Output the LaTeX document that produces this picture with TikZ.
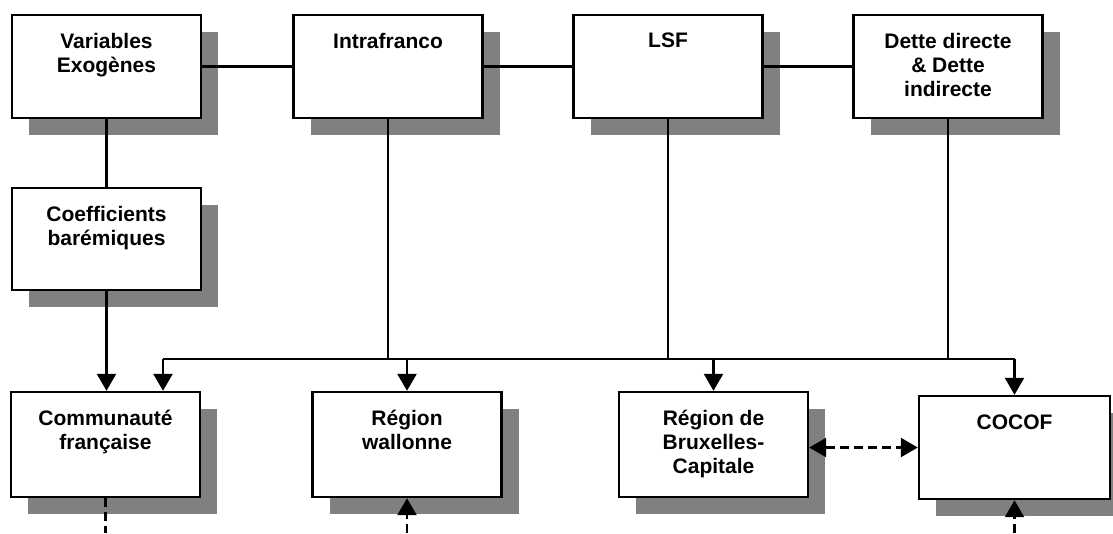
\documentclass[tikz,border=0pt]{standalone}
\usepackage{fontspec}
\setmainfont{Liberation Sans}
\usetikzlibrary{arrows.meta,shadows}

\tikzset{
  box/.style={draw, line width=2.4pt, fill=white, minimum width=189pt, minimum height=103pt,
    drop shadow={fill=gray, opacity=1, shadow xshift=17pt, shadow yshift=-17pt}},
  lbl/.style={anchor=north, align=center, yshift=-16pt, font=\fontsize{21}{24}\selectfont\bfseries},
  link/.style={line width=2.4pt},
  tip/.style={-{Triangle[width=19pt,length=17pt]}},
  flow/.style={line width=2.4pt, tip},
  dflow/.style={line width=2.4pt, dash pattern=on 9pt off 5pt},
}

\begin{document}
\begin{tikzpicture}[x=1pt, y=-1pt]
  \useasboundingbox (0,0) rectangle (1113,533);

  % top row
  \node[box, label={[lbl]north:Variables\\Exogènes}] (ve) at (106.5,66.5) {};
  \node[box, label={[lbl]north:Intrafranco}] (intra) at (388,66.5) {};
  \node[box, label={[lbl]north:LSF}] (lsf) at (668,66.5) {};
  \node[box, label={[lbl]north:Dette directe\\\& Dette\\indirecte}] (dette) at (948,66.5) {};
  \node[box, minimum height=102pt, label={[lbl]north:Coefficients\\barémiques}] (coeff) at (106.5,239) {};

  % bottom row
  \node[box, minimum height=105pt, label={[lbl]north:Communauté\\française}] (commu) at (105.5,444.5) {};
  \node[box, minimum height=105pt, label={[lbl]north:Région\\wallonne}] (wall) at (407,444.5) {};
  \node[box, minimum height=105pt, label={[lbl]north:Région de\\Bruxelles-\\Capitale}] (brux) at (713.5,444.5) {};
  \node[box, minimum width=191pt, label={[lbl]north:COCOF}] (cocof) at (1014.5,447.5) {};

  \coordinate (busL) at (163,359);
  \coordinate (busR) at (1014.5,359);
  \coordinate (bot) at (0,533);

  \draw[link] (ve.east) -- (intra.west);
  \draw[link] (intra.east) -- (lsf.west);
  \draw[link] (lsf.east) -- (dette.west);
  \draw[link] (ve.south) -- (coeff.north);
  \draw[flow] (coeff.south) -- (commu.north -| coeff.south);

  \draw[link] (intra.south) -- (intra.south |- busL);
  \draw[link] (lsf.south) -- (lsf.south |- busL);
  \draw[link] (dette.south) -- (dette.south |- busL);
  \draw[link] (busL) -- (busR);
  \draw[flow] (busL) -- (commu.north -| busL);
  \draw[flow] (wall.north |- busL) -- (wall.north);
  \draw[flow] (brux.north |- busL) -- (brux.north);
  \draw[flow] (busR) -- (cocof.north);

  \draw[dflow] (commu.south) -- (commu.south |- bot);
  \draw[dflow, tip] (wall.south |- bot) -- (wall.south);
  \draw[dflow, tip] (cocof.south |- bot) -- (cocof.south);
  \draw[dflow, {Triangle[width=19pt,length=17pt]}-{Triangle[width=19pt,length=17pt]}] (brux.east |- cocof.west) -- (cocof.west);
\end{tikzpicture}
\end{document}
